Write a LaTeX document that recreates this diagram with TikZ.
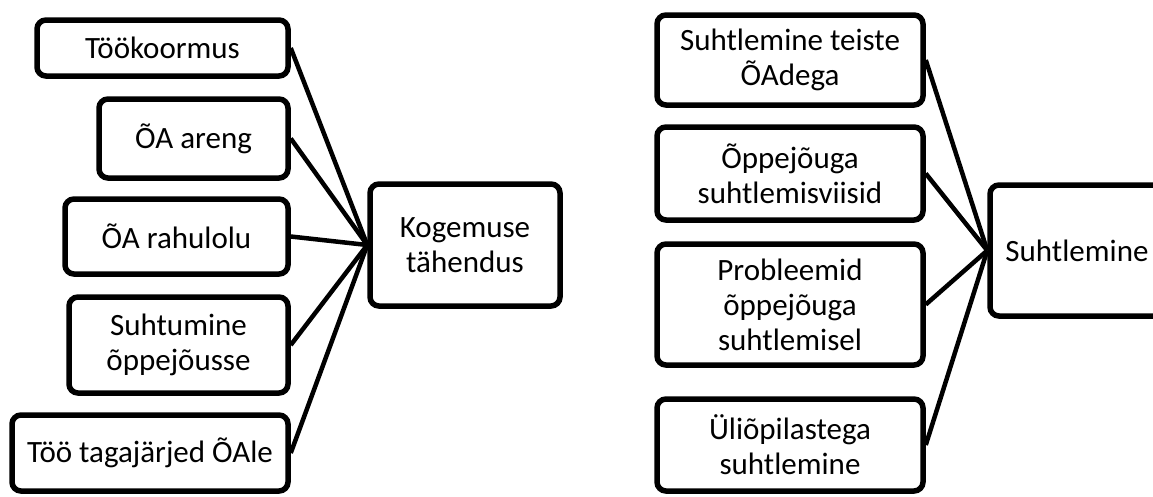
\documentclass[tikz,border=0pt]{standalone}
\usepackage{fontspec}
\setmainfont{Carlito}
\begin{document}
\begin{tikzpicture}[x=1pt,y=-1pt,
  box/.style={draw=black, line width=5.5pt, rounded corners=9pt, fill=white,
    align=center, inner sep=2pt, font=\fontsize{31}{35}\selectfont},
  link/.style={draw=black, line width=4.5pt}]
\clip (0,0) rectangle (1153,496);
\fill[white] (0,0) rectangle (1153,496);
% left group
\node[box, minimum width=251pt, minimum height=56pt] (t1) at (162.5,48) {Töökoormus};
\node[box, minimum width=189pt, minimum height=79pt] (t2) at (193.5,138.5) {ÕA areng};
\node[box, minimum width=223pt, minimum height=75pt] (t3) at (176.5,236.5) {ÕA rahulolu};
\node[box, minimum width=219pt, minimum height=96pt] (t4) at (178.5,345) {Suhtumine\\õppejõusse};
\node[box, minimum width=276pt, minimum height=76pt] (t5) at (150,453) {Töö tagajärjed ÕAle};
\node[box, minimum width=190pt, minimum height=122pt] (c1) at (465,245) {Kogemuse\\tähendus};
\foreach \n in {t1,t2,t3,t4,t5} \draw[link] (\n.east) -- (c1.west);
% right group
\node[box, minimum width=266pt, minimum height=90pt] (r1) at (790,60) {Suhtlemine teiste\\ÕAdega};
\node[box, minimum width=266pt, minimum height=93pt] (r2) at (790,173.5) {Õppejõuga\\suhtlemisviisid};
\node[box, minimum width=266pt, minimum height=121pt] (r3) at (790,304.5) {Probleemid\\õppejõuga\\suhtlemisel};
\node[box, minimum width=266pt, minimum height=92pt] (r4) at (790,445) {Üliõpilastega\\suhtlemine};
\node[box, minimum width=174pt, minimum height=131pt] (c2) at (1077,250.5) {Suhtlemine};
\foreach \n in {r1,r2,r3,r4} \draw[link] (\n.east) -- (c2.west);
\end{tikzpicture}
\end{document}
